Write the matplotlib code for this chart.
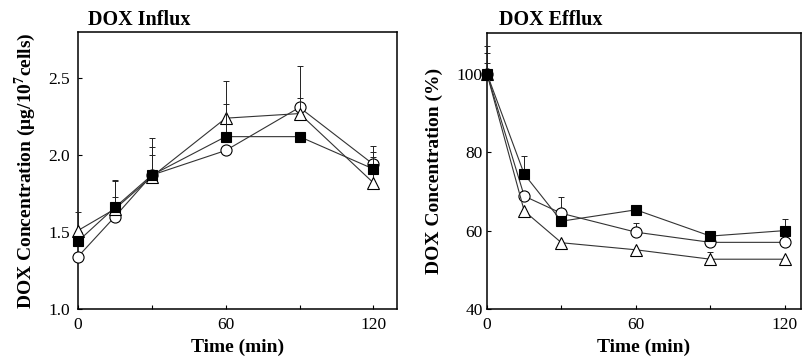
import numpy as np
import matplotlib
matplotlib.use('Agg')
import matplotlib.pyplot as plt

plt.rcParams['font.family'] = ['Liberation Serif', 'DejaVu Serif']
plt.rcParams['mathtext.fontset'] = 'custom'
plt.rcParams['mathtext.rm'] = 'Liberation Serif'
plt.rcParams['mathtext.bf'] = 'Liberation Serif:bold'

time_min = [0, 15, 30, 60, 90, 120]

# DOX influx (ug/10^7 cells)
influx_square = [1.44, 1.66, 1.87, 2.12, 2.12, 1.91]
influx_circle = [1.34, 1.60, 1.87, 2.03, 2.31, 1.94]
influx_triangle = [1.51, 1.65, 1.86, 2.24, 2.27, 1.82]
influx_square_err = [0.0, 0.18, 0.24, 0.21, 0.0, 0.15]
influx_circle_err = [0.0, 0.13, 0.18, 0.0, 0.27, 0.08]
influx_triangle_err = [0.12, 0.18, 0.14, 0.24, 0.10, 0.17]

# DOX efflux (%)
efflux_square = [100, 74.4, 62.4, 65.3, 58.6, 60.0]
efflux_circle = [100, 68.8, 64.4, 59.6, 57.0, 57.0]
efflux_triangle = [100, 65.0, 56.9, 55.1, 52.7, 52.7]
efflux_square_err = [7.1, 4.6, 0.0, 0.0, 0.9, 2.9]
efflux_circle_err = [5.2, 0.0, 4.2, 2.3, 0.0, 0.0]
efflux_triangle_err = [2.8, 0.0, 0.0, 0.0, 1.9, 0.0]

W, H = 803, 361
fig = plt.figure(figsize=(W / 100, H / 100), dpi=100)

def draw_series(ax, y, err, marker, face, z):
    eb = ax.errorbar(time_min, y, yerr=[np.zeros(len(err)), err], fmt='none',
                     ecolor='#222222', elinewidth=0.7, capsize=2.5, capthick=0.7, zorder=z)
    for art in eb.lines[1] + eb.lines[2]:
        art.set_clip_on(False)
    ax.plot(time_min, y, color='#333333', lw=0.8, marker=marker, ms=8 if marker != 's' else 7.5,
            mfc=face, mec='black', mew=0.8, zorder=z + 1, clip_on=False)

def style_axis(ax):
    for sp in ax.spines.values():
        sp.set_linewidth(1.1)
    ax.tick_params(direction='in', length=3, width=0.8, labelsize=12.5, pad=6)
    ax.set_xticks([0, 30, 60, 90, 120])
    ax.set_xticklabels(['0', '', '60', '', '120'])
    ax.set_xlabel('Time (min)', fontsize=14, fontweight='bold', labelpad=4)

# left panel: influx
ax1 = fig.add_axes([78 / W, 1 - 309 / H, 319 / W, 277 / H])
draw_series(ax1, influx_circle, influx_circle_err, 'o', 'white', 2)
draw_series(ax1, influx_triangle, influx_triangle_err, '^', 'white', 4)
draw_series(ax1, influx_square, influx_square_err, 's', 'black', 6)
ax1.set_xlim(0, 129.6)
ax1.set_ylim(1.0, 2.8)
ax1.set_yticks([1.0, 1.5, 2.0, 2.5])
ax1.set_yticklabels(['1.0', '1.5', '2.0', '2.5'])
style_axis(ax1)
ax1.set_ylabel(r'DOX Concentration (μg/10$^{\mathbf{7}}$cells)', fontsize=14, fontweight='bold')
ax1.yaxis.set_label_coords(-0.125, 0.5)
fig.text(88 / W, 1 - 25 / H, 'DOX Influx', fontsize=14.5, fontweight='bold', va='baseline')

# right panel: efflux
ax2 = fig.add_axes([487 / W, 1 - 309 / H, 314 / W, 276 / H])
draw_series(ax2, efflux_circle, efflux_circle_err, 'o', 'white', 2)
draw_series(ax2, efflux_triangle, efflux_triangle_err, '^', 'white', 4)
draw_series(ax2, efflux_square, efflux_square_err, 's', 'black', 6)
ax2.set_xlim(0, 126.5)
ax2.set_ylim(40, 110.4)
ax2.set_yticks([40, 60, 80, 100])
style_axis(ax2)
ax2.tick_params(axis='y', pad=3)
ax2.set_ylabel('DOX Concentration (%)', fontsize=14, fontweight='bold')
ax2.yaxis.set_label_coords(-0.14, 0.5)
fig.text(499 / W, 1 - 25 / H, 'DOX Efflux', fontsize=14.5, fontweight='bold', va='baseline')

plt.savefig('out.png', dpi=100)
